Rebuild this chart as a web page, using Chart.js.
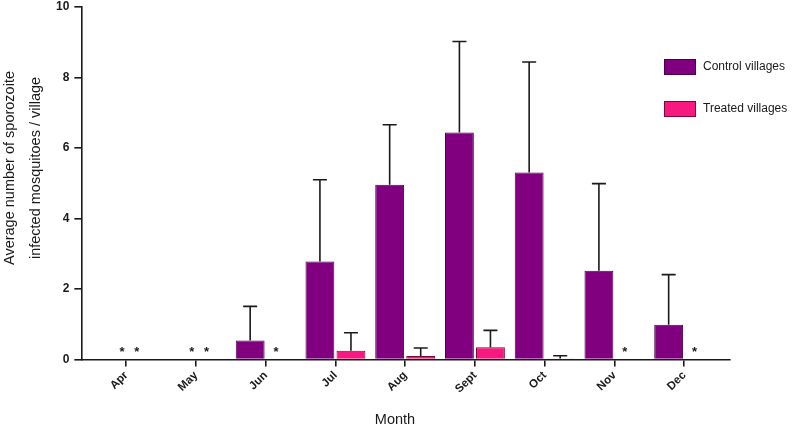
<!DOCTYPE html>
<html>
<head>
<meta charset="utf-8">
<script src="https://cdn.jsdelivr.net/npm/chart.js@4.4.1/dist/chart.umd.min.js"></script>
<style>
  html, body { margin: 0; padding: 0; background: #fff; }
  #wrap { width: 797px; height: 431px; }
</style>
</head>
<body>
<div id="wrap"><canvas id="barChart"></canvas></div>
<script>
// データ
const months = ['Apr', 'May', 'Jun', 'Jul', 'Aug', 'Sept', 'Oct', 'Nov', 'Dec'];
const controlMean = [0, 0, 0.54, 2.78, 4.96, 6.44, 5.31, 2.52, 0.99];
const controlErr  = [0, 0, 1.51, 5.10, 6.66, 9.02, 8.44, 4.99, 2.41];
const treatedMean = [0, 0, 0, 0.25, 0.10, 0.35, 0.03, 0, 0];
const treatedErr  = [0, 0, 0, 0.76, 0.33, 0.83, 0.11, 0, 0];
// 値が 0 の月に付ける印
const controlStar = [true, true, false, false, false, false, false, false, false];
const treatedStar = [true, true, true, false, false, false, false, true, true];
const yTicks = [0, 2, 4, 6, 8, 10];
const yTitle = ['Average number of sporozoite', 'infected mosquitoes / village'];
const xTitle = 'Month';

const ink = '#1a1a1a';
const fontFamily = '"Liberation Sans", Arial, sans-serif';

// エラーバーと * 印を描く
const errorBars = {
    id: 'errorBars',
    afterDatasetsDraw(chart) {
        const ctx = chart.ctx;
        const y = chart.scales.y;
        const x = chart.scales.x;
        const errs = [controlErr, treatedErr];
        ctx.save();
        ctx.strokeStyle = ink;
        ctx.lineWidth = 1.6;
        errs.forEach((err, di) => {
            chart.getDatasetMeta(di).data.forEach((bar, i) => {
                if (!err[i]) return;
                const top = y.getPixelForValue(err[i]);
                ctx.beginPath();
                ctx.moveTo(bar.x, bar.y);
                ctx.lineTo(bar.x, top);
                ctx.moveTo(bar.x - 7, top);
                ctx.lineTo(bar.x + 7, top);
                ctx.stroke();
            });
        });
        ctx.fillStyle = ink;
        ctx.font = 'bold 13px ' + fontFamily;
        ctx.textAlign = 'center';
        ctx.textBaseline = 'middle';
        const y0 = y.getPixelForValue(0) - 7;
        months.forEach((m, i) => {
            if (controlStar[i]) ctx.fillText('*', x.getPixelForValue(i - 0.06), y0);
            if (treatedStar[i]) ctx.fillText('*', x.getPixelForValue(i + 0.15), y0);
        });
        ctx.restore();
    }
};

// 凡例と軸タイトル（元の図に合わせて少しずらす）
const boxLegend = {
    id: 'boxLegend',
    afterDraw(chart) {
        const ctx = chart.ctx;
        ctx.save();
        ctx.font = '12px ' + fontFamily;
        ctx.textBaseline = 'middle';
        chart.data.datasets.forEach((ds, i) => {
            const top = 59 + i * 42;
            ctx.fillStyle = ds.backgroundColor;
            ctx.fillRect(664, top, 32, 16);
            ctx.strokeStyle = ds.borderColor;
            ctx.lineWidth = 1;
            ctx.strokeRect(664.5, top + 0.5, 31, 15);
            ctx.fillStyle = ink;
            ctx.fillText(ds.label, 703, top + 8);
        });

        ctx.font = '14.5px ' + fontFamily;
        ctx.textAlign = 'center';
        ctx.fillText(xTitle, 395, 420);

        ctx.translate(0, 168);
        ctx.rotate(-Math.PI / 2);
        yTitle.forEach((line, i) => {
            ctx.fillText(line, 0, 10 + i * 25.5);
        });
        ctx.restore();
    }
};

const ctx = document.getElementById('barChart').getContext('2d');
new Chart(ctx, {
    type: 'bar',
    data: {
        datasets: [
            {
                label: 'Control villages',
                data: controlMean.map((v, i) => ({x: i, y: v})),
                backgroundColor: '#800080',
                borderColor: '#4a004a',
                borderWidth: 1,
                barPercentage: 0.93,
                categoryPercentage: 0.89
            },
            {
                label: 'Treated villages',
                data: treatedMean.map((v, i) => ({x: i, y: v})),
                backgroundColor: '#f8187f',
                borderColor: '#7a0a3a',
                borderWidth: 1,
                barPercentage: 0.93,
                categoryPercentage: 0.89
            }
        ]
    },
    plugins: [errorBars, boxLegend],
    options: {
        responsive: true,
        maintainAspectRatio: false,
        animation: false,
        layout: {
            padding: {top: 7, right: 67, bottom: 33, left: 51}
        },
        plugins: {
            legend: {display: false},
            tooltip: {enabled: false}
        },
        scales: {
            x: {
                type: 'linear',
                min: -0.643,
                max: 8.657,
                offset: false,
                afterBuildTicks: (scale) => {
                    scale.ticks = months.map((m, i) => ({value: i}));
                },
                grid: {
                    display: true,
                    offset: false,
                    drawOnChartArea: false,
                    drawTicks: true,
                    tickLength: 7,
                    color: ink,
                    lineWidth: 1.6
                },
                border: {display: true, color: ink, width: 1.6},
                ticks: {
                    color: ink,
                    maxRotation: 45,
                    minRotation: 45,
                    padding: 2,
                    font: {family: fontFamily, size: 11.5, weight: 'bold'},
                    callback: (v) => months[v]
                }
            },
            y: {
                min: 0,
                max: 10,
                afterBuildTicks: (scale) => {
                    scale.ticks = yTicks.map(v => ({value: v}));
                },
                afterFit: (scale) => {
                    scale.paddingTop = 0;
                },
                grid: {
                    display: true,
                    drawOnChartArea: false,
                    drawTicks: true,
                    tickLength: 7,
                    color: ink,
                    lineWidth: 1.6
                },
                border: {display: true, color: ink, width: 1.6},
                ticks: {
                    color: ink,
                    padding: 5,
                    font: {family: fontFamily, size: 12, weight: 'bold'}
                }
            }
        }
    }
});
</script>
</body>
</html>
